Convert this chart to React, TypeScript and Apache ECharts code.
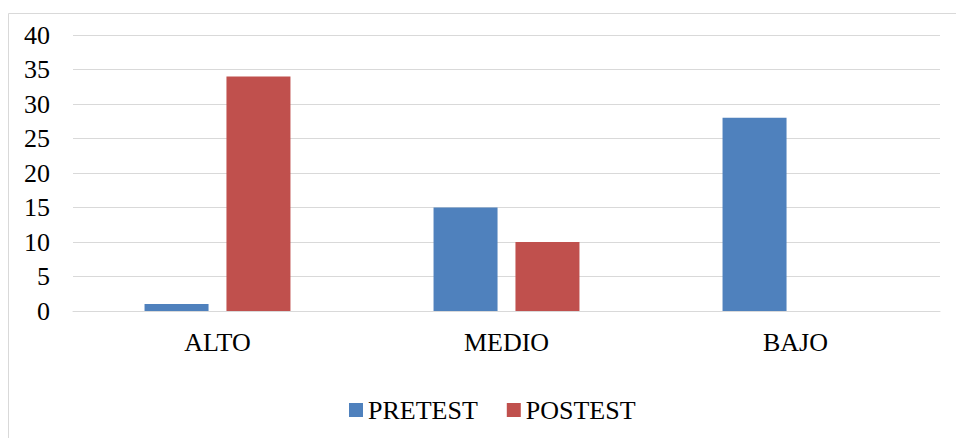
import React, { useEffect, useRef } from "react";
import * as echarts from "echarts";

const categories = ["ALTO", "MEDIO", "BAJO"];
const pretest = [1, 15, 28];
const postest = [34, 10, 0];
const seriesNames = ["PRETEST", "POSTEST"];

const FONT = "'Liberation Serif', 'Times New Roman', serif";

export default function App() {
  const ref = useRef<HTMLDivElement>(null);
  useEffect(() => {
    if (!ref.current) return;
    const chart = echarts.init(ref.current, undefined, { renderer: "svg" });
    chart.setOption({
      animation: false,
      backgroundColor: "#ffffff",
      graphic: [
        {
          type: "rect",
          shape: { x: 8.5, y: 13.5, width: 1000, height: 500 },
          style: { fill: "none", stroke: "#d9d9d9", lineWidth: 1 },
          silent: true,
        },
      ],
      grid: { left: 73, right: 16, top: 35, bottom: 127 },
      legend: {
        left: 344,
        top: 392,
        itemWidth: 14,
        itemHeight: 14,
        itemGap: 29,
        icon: "rect",
        textStyle: { fontFamily: FONT, fontSize: 26, color: "#000", lineHeight: 26 },
        data: seriesNames,
      },
      xAxis: {
        type: "category",
        data: categories,
        axisLine: { lineStyle: { color: "#d9d9d9", width: 1 } },
        axisTick: { show: false },
        axisLabel: { fontFamily: FONT, fontSize: 26, color: "#000", margin: 18 },
      },
      yAxis: {
        type: "value",
        min: 0,
        max: 40,
        interval: 5,
        axisLine: { show: false },
        axisTick: { show: false },
        splitLine: { lineStyle: { color: "#d9d9d9", width: 1 } },
        axisLabel: { fontFamily: FONT, fontSize: 26, color: "#000", margin: 23 },
      },
      series: [
        {
          name: seriesNames[0],
          type: "bar",
          data: pretest,
          barWidth: 64,
          barGap: "28%",
          itemStyle: { color: "#4f81bd" },
        },
        {
          name: seriesNames[1],
          type: "bar",
          data: postest,
          barWidth: 64,
          barGap: "28%",
          itemStyle: { color: "#c0504d" },
        },
      ],
    });
    return () => chart.dispose();
  }, []);
  return (
    <div
      ref={ref}
      style={{ width: 956, height: 438, position: "absolute", left: 0, top: 0 }}
    />
  );
}
